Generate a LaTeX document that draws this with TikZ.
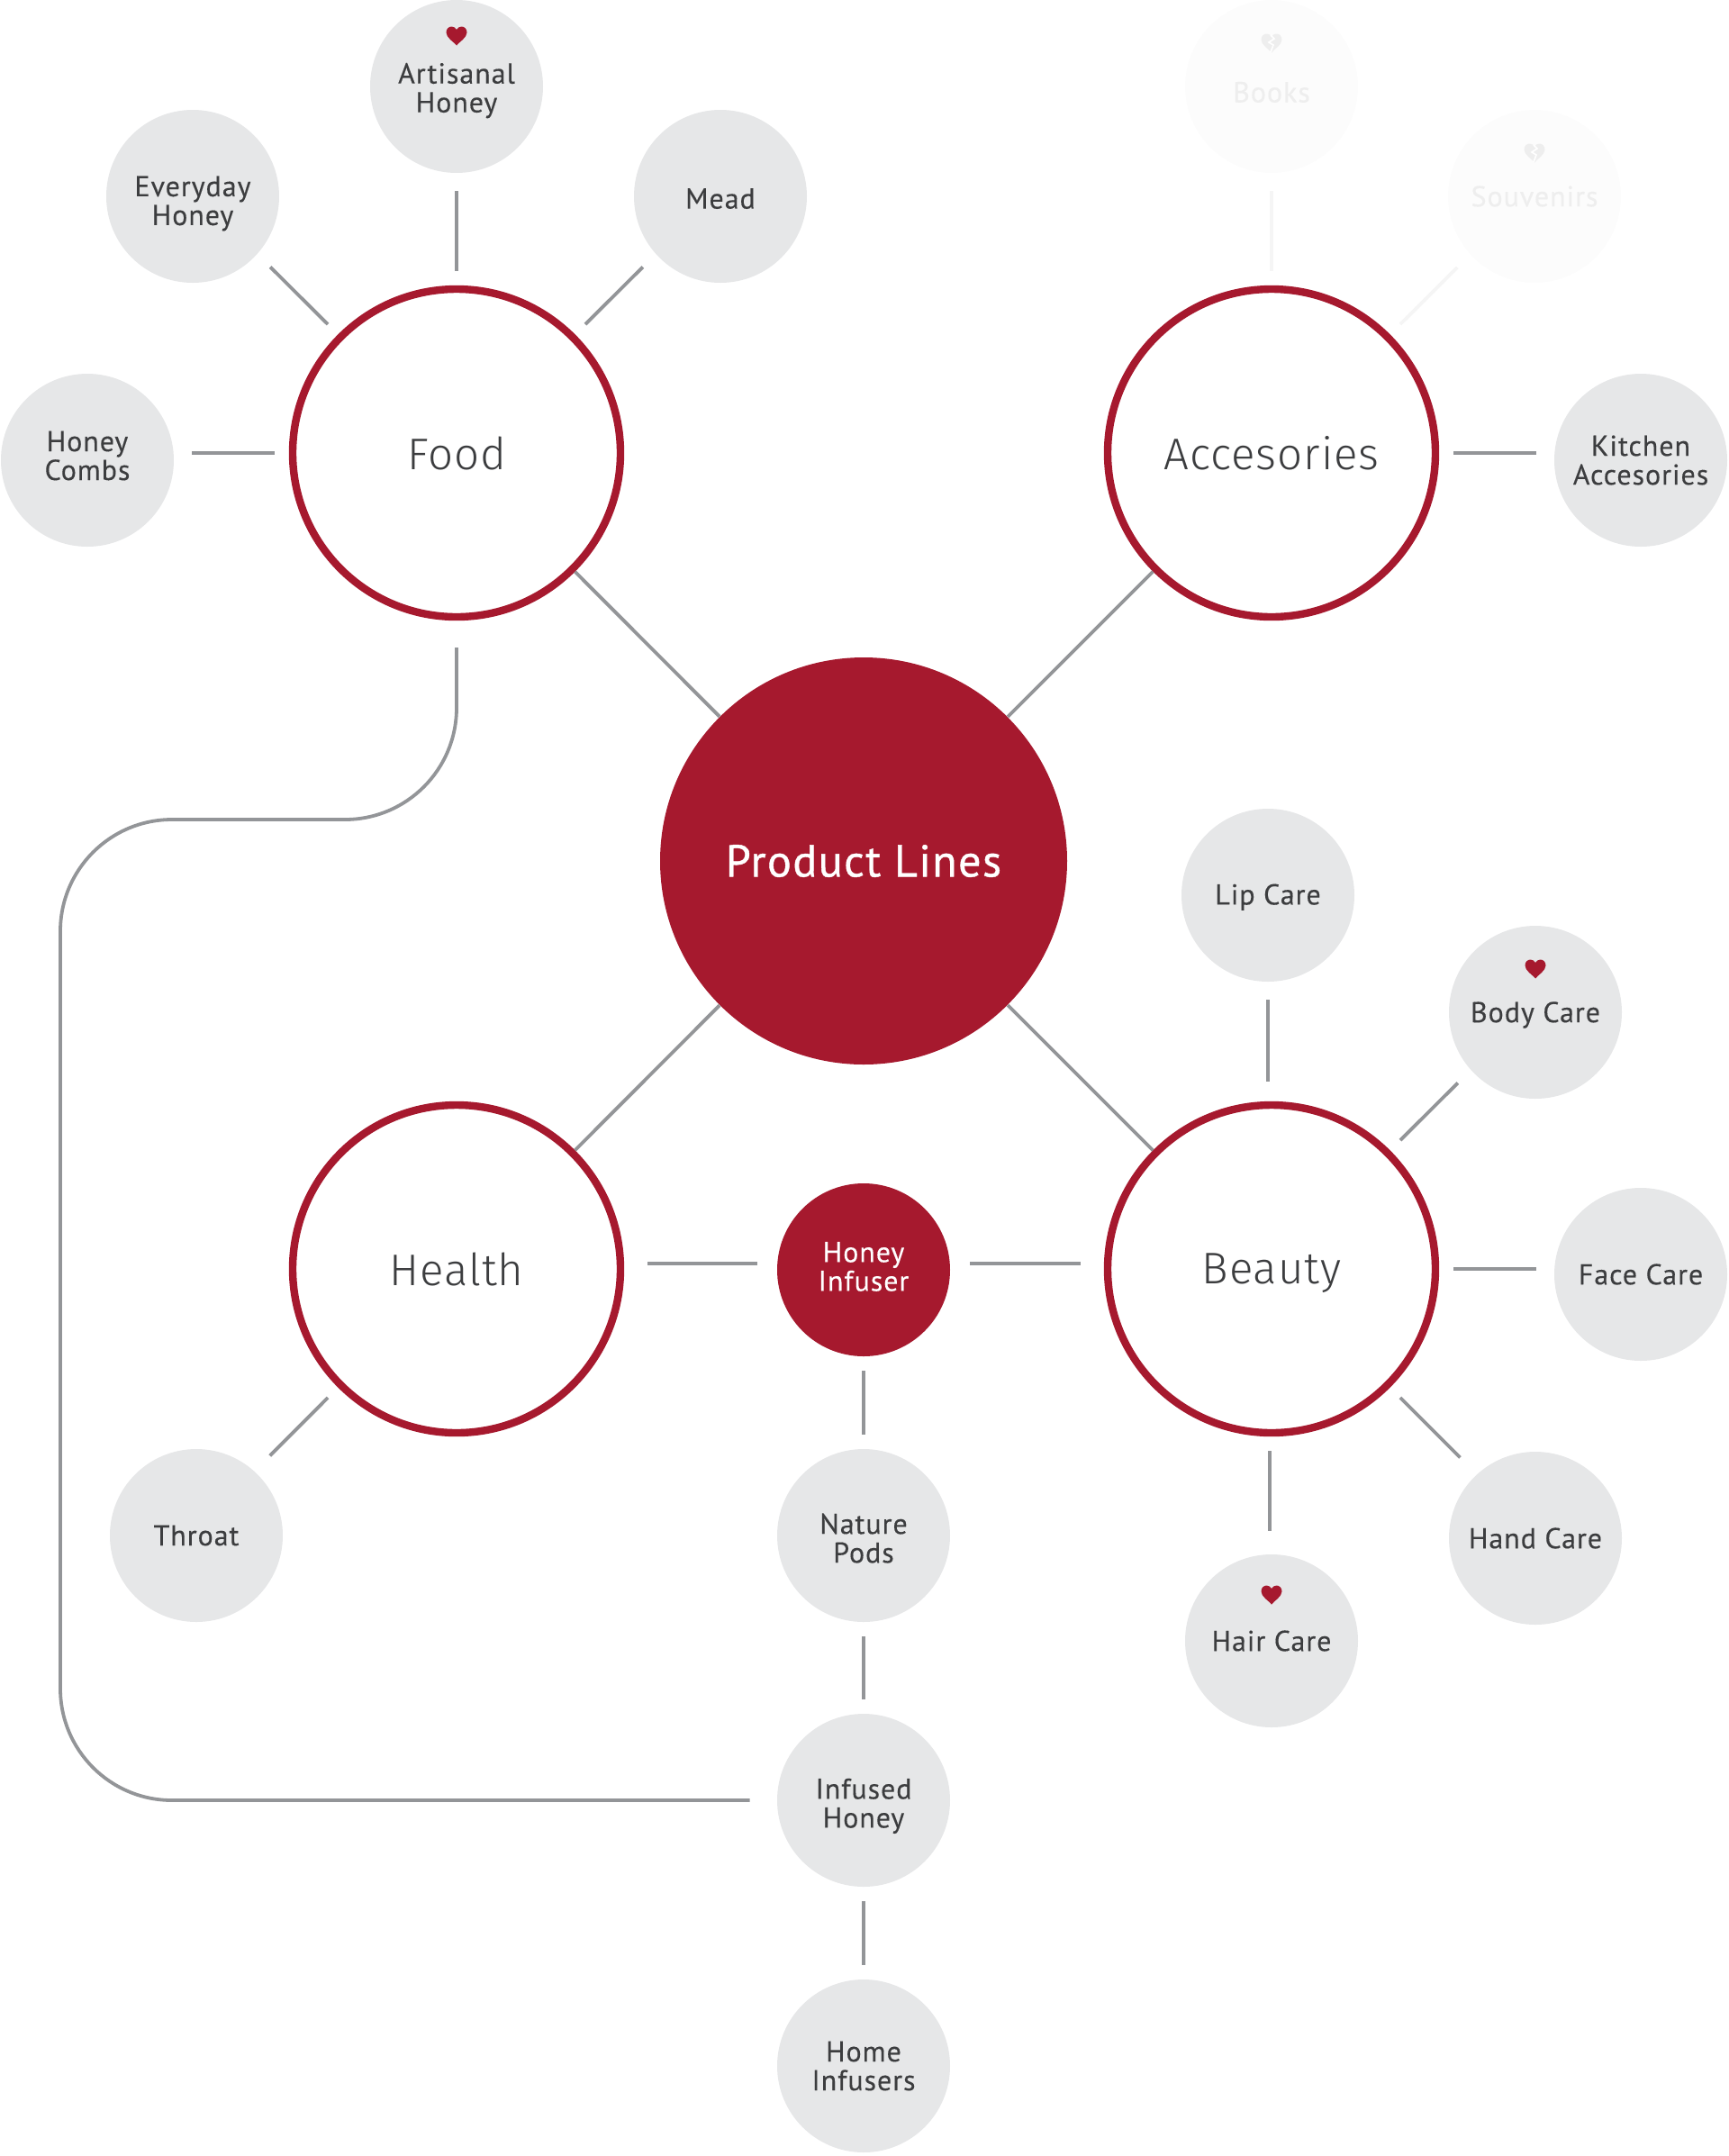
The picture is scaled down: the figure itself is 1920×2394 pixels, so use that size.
\documentclass[tikz,border=0pt]{standalone}
\usepackage{fontspec}
\setmainfont{PT Sans}[LetterSpace=3,FakeBold=0.25]
\newfontfamily\lightfont{Fira Sans Light}[LetterSpace=2]
\newfontfamily\hubfont{PT Sans}[LetterSpace=3,FakeBold=0.8]
\usepackage{xcolor}
\definecolor{brandred}{HTML}{A6192E}
\definecolor{bubblegrey}{HTML}{E6E7E8}
\definecolor{linkgrey}{HTML}{939598}
\definecolor{inkgrey}{HTML}{3C3D3F}
\definecolor{fadefill}{HTML}{FCFCFC}
\definecolor{fadeink}{HTML}{EEEEEE}
\definecolor{fadelink}{HTML}{F5F5F5}
\tikzset{
  bubblefont/.style={align=center, font=\fontsize{16}{16}\selectfont},
  bubble/.style={circle, fill=bubblegrey, text=inkgrey, minimum size=96pt, inner sep=0pt, bubblefont},
  fadebubble/.style={bubble, fill=fadefill, text=fadeink},
  solidbubble/.style={bubble, fill=brandred, text=white},
  nudged/.style 2 args={label={[bubblefont, text=inkgrey, inner sep=0pt, yshift=#1]center:#2}},
  nudgedwhite/.style 2 args={label={[bubblefont, text=white, inner sep=0pt, yshift=#1]center:#2}},
  branch/.style={circle, draw=brandred, line width=4.2pt, fill=white, text=inkgrey, minimum size=182pt, inner sep=0pt, font=\lightfont\fontsize{24.6}{26}\selectfont},
  hub/.style={circle, fill=brandred, text=white, minimum size=226pt, inner sep=0pt, font=\hubfont\fontsize{25}{26}\selectfont},
  link/.style={draw=linkgrey, line width=1.9pt, shorten <=8pt, shorten >=10pt},
  fadelink/.style={link, draw=fadelink}
}
\newcommand{\heartpath}{(0,10.5) .. controls (-3,6.5) and (-11.5,2) .. (-11.5,-4) .. controls (-11.5,-8) and (-8.5,-10.5) .. (-5.5,-10.5) .. controls (-3,-10.5) and (-1,-9) .. (0,-7) .. controls (1,-9) and (3,-10.5) .. (5.5,-10.5) .. controls (8.5,-10.5) and (11.5,-8) .. (11.5,-4) .. controls (11.5,2) and (3,6.5) .. (0,10.5) -- cycle}
\begin{document}
\begin{tikzpicture}[x=0.5pt, y=-0.5pt]
        \useasboundingbox (0,0) rectangle (1920,2394);

        % Centre and branches
        \node[hub] (product) at (959,956) {Product Lines};
        \node[branch] (food) at (507,503) {Food};
        \node[branch] (access) at (1412,503) {Accesories};
        \node[branch] (health) at (507,1409) {Health};
        \node[branch, text depth=0pt] (beauty) at (1412,1409) {Beauty};

        % Food items
        \node[bubble, nudged={-2.3pt}{Artisanal\\Honey}] (artisanal) at (507,96) {};
        \node[bubble, nudged={-4pt}{Everyday\\Honey}] (everyday) at (214,218) {};
        \node[bubble, nudged={-1.3pt}{Mead}] (mead) at (800,218) {};
        \node[bubble, nudged={2.5pt}{Honey\\Combs}] (combs) at (97,511) {};

        % Accesories items
        \node[fadebubble, nudged={-3.2pt}{\textcolor{fadeink}{Books}}] (books) at (1412,96) {};
        \node[fadebubble] (souvenirs) at (1704,218) {Souvenirs};
        \node[bubble] (kitchen) at (1822,511) {Kitchen\\Accesories};

        % Beauty items
        \node[bubble, nudged={-1.1pt}{Lip Care}] (lip) at (1408,994) {};
        \node[bubble, nudged={-1.5pt}{Body Care}] (body) at (1705,1124) {};
        \node[bubble] (face) at (1822,1415) {Face Care};
        \node[bubble] (hand) at (1705,1708) {Hand Care};
        \node[bubble] (hair) at (1412,1822) {Hair Care};

        % Health and the honey column
        \node[bubble] (throat) at (218,1705) {Throat};
        \node[solidbubble, nudgedwhite={1.8pt}{Honey\\Infuser}] (infuser) at (959,1410) {};
        \node[bubble, nudged={-1.5pt}{Nature\\Pods}] (nature) at (959,1705) {};
        \node[bubble, nudged={-3.2pt}{Infused\\Honey}] (infused) at (959,1999) {};
        \node[bubble] (home) at (959,2294) {Home\\Infusers};

        % Hearts
        \fill[brandred, shift={(507,40)}] \heartpath;
        \fill[brandred, shift={(1705,1076)}] \heartpath;
        \fill[brandred, shift={(1412,1771)}] \heartpath;
        \fill[fadeink, shift={(1412,48)}] \heartpath;
        \draw[white, line width=0.8pt, shift={(1412,48)}] (-1,-9) -- (3,-5) -- (-3,-1) -- (2,2) -- (-1,10);
        \fill[fadeink, shift={(1704,170)}] \heartpath;
        \draw[white, line width=0.8pt, shift={(1704,170)}] (-1,-9) -- (3,-5) -- (-3,-1) -- (2,2) -- (-1,10);

        % Edges
        \draw (food.90) edge[link] (artisanal.270)
              (food.135) edge[link] ([shift={(1.9pt,1.9pt)}]everyday.315)
              (food.45) edge[link] ([shift={(-1.9pt,1.9pt)}]mead.225)
              (food.180) edge[link] (combs.east |- food.180)
              (access.0) edge[link] (kitchen.west |- access.0)
              (beauty.90 -| lip.south) edge[link, shorten <=11pt] (lip.south)
              (beauty.45) edge[link] ([shift={(-1.9pt,1.9pt)}]body.225)
              (beauty.0) edge[link] (face.west |- beauty.0)
              (beauty.315) edge[link, shorten >=13pt] ([shift={(1.5pt,1.5pt)}]hand.135)
              ([xshift=-1pt]beauty.270) edge[link, shorten >=13pt] ([xshift=-1pt]hair.north)
              (health.225) edge[link, shorten >=12pt] ([shift={(-1.7pt,1.7pt)}]throat.45)
              ([yshift=3.2pt]health.east) edge[link, shorten <=13pt, shorten >=11pt] ([yshift=3.2pt]health.east -| infuser.west)
              ([yshift=3.2pt]health.east -| infuser.east) edge[link, shorten <=11pt, shorten >=13pt] ([yshift=3.2pt]beauty.west)
              (infuser) edge[link, shorten <=8pt, shorten >=8pt] (nature)
              (nature) edge[link, shorten <=8pt, shorten >=8pt] (infused)
              (infused) edge[link, shorten <=8pt, shorten >=8pt] (home);
        \draw (access.90) edge[fadelink] (books.270)
              (access.45) edge[fadelink] ([shift={(-1.7pt,1.7pt)}]souvenirs.225);
        \draw[draw=linkgrey, line width=1.9pt] (food) -- (product) (access) -- (product) (health) -- (product) (beauty) -- (product);

        % Long way round
        \coordinate (bendtop) at (507,910);
        \coordinate (bendleft) at (67,910);
        \coordinate (bendlow) at (67,1999);
        \draw[link, rounded corners=62pt, shorten <=15pt, shorten >=15pt] (food.south) -- (bendtop) -- (bendleft) -- (bendlow) -- (infused.west);
    \end{tikzpicture}
\end{document}
